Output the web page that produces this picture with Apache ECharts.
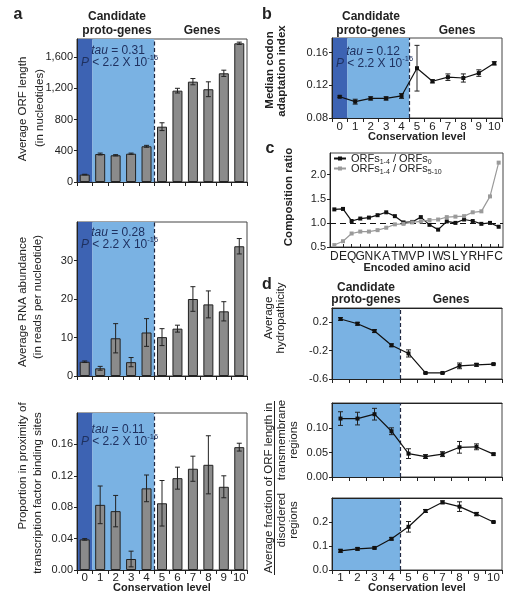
<!DOCTYPE html>
<html><head><meta charset="utf-8">
<script src="https://cdn.jsdelivr.net/npm/echarts@6/dist/echarts.min.js"></script>
<style>html,body{margin:0;padding:0;background:#fff}#c{width:518px;height:600px}</style>
</head><body><div id="c"></div>
<script>
// ---------------- data ----------------
const levels = ['0','1','2','3','4','5','6','7','8','9','10'];
const levelsD = ['1','2','3','4','5','6','7','8','9','10'];
const orfLength = [95, 358, 342, 362, 457, 708, 1169, 1284, 1187, 1391, 1775];
const orfLengthErr = [4, 12, 8, 8, 12, 50, 30, 40, 95, 40, 15];
const rnaAbundance = [3.7, 2.0, 9.8, 3.6, 11.3, 10.1, 12.3, 20.0, 18.6, 16.8, 33.7];
const rnaAbundanceErr = [0.2, 0.5, 3.8, 1.2, 3.6, 2.2, 0.9, 3.2, 3.5, 2.5, 2.0];
const tfbsProportion = [0.039, 0.083, 0.075, 0.014, 0.104, 0.085, 0.117, 0.129, 0.134, 0.106, 0.1565];
const tfbsProportionErr = [0.001, 0.024, 0.020, 0.010, 0.017, 0.029, 0.014, 0.016, 0.037, 0.014, 0.005];
const codonAdaptation = [0.106, 0.100, 0.104, 0.104, 0.107, 0.141, 0.125, 0.130, 0.129, 0.135, 0.147];
const codonAdaptationErr = [0.001, 0.003, 0.002, 0.002, 0.003, 0.028, 0.002, 0.004, 0.005, 0.004, 0.002];
const aminoAcids = ['D','E','Q','G','N','K','A','T','M','V','P','I','W','S','L','Y','R','H','F','C'];
const ratioVs0 = [1.28, 1.29, 1.04, 1.09, 1.11, 1.16, 1.22, 1.14, 1.01, 1.02, 1.12, 0.96, 0.86, 1.03, 1.00, 1.07, 1.04, 0.98, 1.00, 0.92];
const ratioVs510 = [0.54, 0.62, 0.78, 0.82, 0.82, 0.85, 0.90, 0.97, 0.98, 1.01, 1.03, 1.06, 1.07, 1.12, 1.13, 1.14, 1.22, 1.24, 1.55, 2.25];
const hydropathicity = [0.245, 0.178, 0.075, -0.125, -0.24, -0.515, -0.515, -0.415, -0.40, -0.39];
const hydropathicityErr = [0.02, 0.02, 0.02, 0.02, 0.05, 0.01, 0.01, 0.04, 0.02, 0.01];
const transmembrane = [0.120, 0.120, 0.129, 0.094, 0.048, 0.042, 0.047, 0.061, 0.062, 0.047];
const transmembraneErr = [0.014, 0.013, 0.012, 0.007, 0.010, 0.004, 0.005, 0.012, 0.006, 0.002];
const disordered = [0.080, 0.088, 0.092, 0.130, 0.180, 0.246, 0.282, 0.264, 0.233, 0.200];
const disorderedErr = [0.006, 0.005, 0.004, 0.005, 0.022, 0.006, 0.006, 0.020, 0.007, 0.003];
const tauValues = ['0.31', '0.28', '0.11', '0.12'];
const pBound = '2.2 X 10';
const pExponent = '-16';
const ticksA1 = [0, 400, 800, 1200, 1600];
const ticksA2 = [0, 10, 20, 30];
const ticksA3 = [0, 0.04, 0.08, 0.12, 0.16];
const ticksB = [0.08, 0.12, 0.16];
const ticksC = [0.5, 1.0, 1.5, 2.0];
const ticksD1 = [-0.6, -0.2, 0.2];
const ticksD2 = [0, 0.05, 0.10];
const ticksD3 = [0, 0.1, 0.2];

// ---------------- styles ----------------
const FONT = '"Liberation Sans", Arial, Helvetica, sans-serif';
const INK = '#222';
const DARK_BLUE = '#3d63b3';
const LIGHT_BLUE = '#7ab2e3';
const BAR = '#8b8b8b';
const DASH = '#1f2740';
const TAU = '#1f3160';

const grids = [
  {left:77, top:39, width:170, height:143},
  {left:77, top:222, width:170, height:154},
  {left:77, top:413, width:170, height:157},
  {left:332, top:38, width:170, height:80},
  {left:330, top:153, width:173, height:94},
  {left:332, top:308, width:170, height:71},
  {left:332, top:403, width:170, height:74},
  {left:332, top:498, width:170, height:72}
].map(g => Object.assign({show:true, borderColor:'#444', borderWidth:1, backgroundColor:'transparent'}, g));

const xAxes = [], yAxes = [], series = [];

function addCat(gi, data, o) {
  o = o || {};
  xAxes.push({type:'category', gridIndex:gi, data:data, boundaryGap:true,
    axisLine:{onZero:false, lineStyle:{color:INK, width:1}},
    axisTick:{show:true, length:o.tickLen || 4, inside:!!o.inside, alignWithLabel:!!o.align, lineStyle:{color:INK}},
    axisLabel:{show:!!o.labels, interval:0, fontSize:o.fs || 11.5, color:INK, margin:o.margin || 3, fontFamily:FONT},
    splitLine:{show:false}, z:3});
  return xAxes.length - 1;
}
function addRegionAxis(gi, min, max, topLine) {
  xAxes.push({type:'value', gridIndex:gi, min:min, max:max, position:'top', show:!!topLine,
    axisLine:{show:!!topLine, onZero:false, lineStyle:{color:INK, width:1}},
    axisTick:{show:false}, axisLabel:{show:false}, splitLine:{show:false}, z:3});
  return xAxes.length - 1;
}
function addVal(gi, min, max, ticks, fmt) {
  yAxes.push({type:'value', gridIndex:gi, min:min, max:max,
    axisLine:{show:true, onZero:false, lineStyle:{color:INK, width:1}},
    axisTick:{show:true, length:3, customValues:ticks, lineStyle:{color:INK}},
    axisLabel:{customValues:ticks, formatter:fmt, fontSize:11, color:INK, margin:4, fontFamily:FONT},
    splitLine:{show:false}, z:3});
  return yAxes.length - 1;
}
function addRegions(xi, yi, bands, dashAt) {
  series.push({type:'line', xAxisIndex:xi, yAxisIndex:yi, data:[], silent:true,
    markArea:{silent:true, label:{show:false},
      data: bands.map(b => [{xAxis:b[0], itemStyle:{color:b[2], opacity:1, borderWidth:0}}, {xAxis:b[1]}])},
    markLine:{silent:true, symbol:'none', label:{show:false},
      lineStyle:{type:[4,2.5], color:DASH, width:1.2}, data:[{xAxis:dashAt}]}
  });
}
function errRender(params, api) {
  const x = api.value(0), v = api.value(1), e = api.value(2);
  const hi = api.coord([x, v + e]), lo = api.coord([x, v - e]);
  const w = 2.5, st = {stroke:INK, lineWidth:1};
  return {type:'group', children:[
    {type:'line', shape:{x1:hi[0], y1:hi[1], x2:lo[0], y2:lo[1]}, style:st},
    {type:'line', shape:{x1:hi[0]-w, y1:hi[1], x2:hi[0]+w, y2:hi[1]}, style:st},
    {type:'line', shape:{x1:lo[0]-w, y1:lo[1], x2:lo[0]+w, y2:lo[1]}, style:st}
  ]};
}
function addErr(xi, yi, vals, errs) {
  series.push({type:'custom', xAxisIndex:xi, yAxisIndex:yi, renderItem:errRender, z:4, silent:true,
    encode:{x:0, y:1}, data: vals.map((v, i) => [i, v, errs[i]])});
}
function addBars(xi, yi, vals, errs) {
  series.push({type:'bar', xAxisIndex:xi, yAxisIndex:yi, data:vals, barWidth:10, silent:true,
    itemStyle:{color:BAR, borderColor:INK, borderWidth:1}});
  addErr(xi, yi, vals, errs);
}
function addLine(xi, yi, vals, errs, color, name) {
  series.push({type:'line', name:name, xAxisIndex:xi, yAxisIndex:yi, data:vals, silent:true,
    symbol:'rect', symbolSize:4, showSymbol:true, color:color,
    lineStyle:{color:color, width:1.2}, itemStyle:{color:color}, z:5});
  if (errs) addErr(xi, yi, vals, errs);
}

const fmtComma = v => String(Math.round(v)).replace(/\B(?=(\d{3})+(?!\d))/g, ',');
const fix = n => v => v.toFixed(n);

const bandsA = [[-0.5, 0.5, DARK_BLUE], [0.5, 4.5, LIGHT_BLUE]];
const bandsD = [[0.5, 4.5, LIGHT_BLUE]];

// panel a
const panelsA = [
  [orfLength, orfLengthErr, 1830, ticksA1, fmtComma, false],
  [rnaAbundance, rnaAbundanceErr, 40, ticksA2, fix(0), false],
  [tfbsProportion, tfbsProportionErr, 0.2, ticksA3, fix(2), true]
];
panelsA.forEach((p, gi) => {
  const xc = addCat(gi, levels, {labels:p[5], margin:2});
  const xr = addRegionAxis(gi, -0.5, 10.5, false);
  const y = addVal(gi, 0, p[2], p[3], p[4]);
  addRegions(xr, y, bandsA, 4.5);
  addBars(xc, y, p[0], p[1]);
});
// panel b
{
  const xc = addCat(3, levels, {labels:true, margin:3});
  const xr = addRegionAxis(3, -0.5, 10.5, false);
  const y = addVal(3, 0.08, 0.178, ticksB, fix(2));
  addRegions(xr, y, bandsA, 4.5);
  addLine(xc, y, codonAdaptation, codonAdaptationErr, '#111');
}
// panel c
{
  const xc = addCat(4, aminoAcids, {labels:true, margin:4, inside:true, align:true, tickLen:3, fs:12});
  const y = addVal(4, 0.5, 2.45, ticksC, fix(1));
  addLine(xc, y, ratioVs0, null, '#111', 'r0');
  series[series.length-1].markLine = {silent:true, symbol:'none', label:{show:false},
    lineStyle:{type:[6,4], color:'#111', width:1}, data:[{yAxis:1}]};
  addLine(xc, y, ratioVs510, null, '#9a9a9a', 'r510');
}
// panel d
const panelsD = [
  [hydropathicity, hydropathicityErr, -0.6, 0.4, ticksD1, fix(1), false],
  [transmembrane, transmembraneErr, 0, 0.152, ticksD2, fix(2), false],
  [disordered, disorderedErr, 0, 0.3, ticksD3, fix(1), true]
];
panelsD.forEach((p, k) => {
  const gi = 5 + k;
  const xc = addCat(gi, levelsD, {labels:p[6], margin:2});
  const xr = addRegionAxis(gi, 0.5, 10.5, true);
  const y = addVal(gi, p[2], p[3], p[4], p[5]);
  addRegions(xr, y, bandsD, 4.5);
  addLine(xc, y, p[0], p[1], '#111');
});

// ---------------- text ----------------
function txt(x, y, text, o) {
  o = o || {};
  return {type:'text', x:x, y:y, rotation:o.rot ? Math.PI/2 : 0, silent:true, z:10,
    style:{text:text, x:0, y:0, align:'center', verticalAlign:'middle', fill:o.color || INK,
      fontSize:o.fs || 11, fontWeight:o.bold ? 'bold' : 'normal', fontFamily:FONT, rich:o.rich}};
}
const tauRich = {
  i:{fontStyle:'italic', fontSize:12, lineHeight:18, fill:TAU, fontFamily:FONT},
  n:{fontSize:12, lineHeight:18, fill:TAU, fontFamily:FONT},
  s:{fontSize:7.5, verticalAlign:'top', fill:TAU, fontFamily:FONT}
};
function tauBlock(cx, cy, tau) {
  return [
    txt(cx, cy, '{i|tau}{n| = ' + tau + '}', {rich:tauRich}),
    txt(cx + 1.5, cy + 12, '{i|P}{n| < ' + pBound + '}{s|' + pExponent + '}', {rich:tauRich})
  ];
}
const H = {bold:true, fs:12};
const N = {bold:true, fs:11};
const graphic = [
  txt(18, 15, 'a', {bold:true, fs:16}),
  txt(267, 15, 'b', {bold:true, fs:16}),
  txt(270, 149, 'c', {bold:true, fs:16}),
  txt(267, 285, 'd', {bold:true, fs:16}),
  txt(117, 17, 'Candidate', H), txt(117, 31, 'proto-genes', H), txt(202, 31, 'Genes', H),
  txt(371, 17, 'Candidate', H), txt(371, 31, 'proto-genes', H), txt(457, 31, 'Genes', H),
  txt(366, 288, 'Candidate', H), txt(366, 300, 'proto-genes', H), txt(451, 300, 'Genes', H),
  txt(23, 109, 'Average ORF length', {rot:true, fs:11.5}),
  txt(40, 108, '(in nucleotides)', {rot:true, fs:11.5}),
  txt(23, 302, 'Average RNA abundance', {rot:true, fs:11.5}),
  txt(38, 297, '(in reads per nucleotide)', {rot:true, fs:11.5}),
  txt(23, 466, 'Proportion in proximity of', {rot:true, fs:11.5}),
  txt(38, 493, 'transcription factor binding sites', {rot:true, fs:11.5}),
  txt(270, 70, 'Median codon', {rot:true, bold:true, fs:11.5}),
  txt(282, 71, 'adaptation index', {rot:true, bold:true, fs:11.5}),
  txt(289, 197, 'Composition ratio', {rot:true, bold:true, fs:11.5}),
  txt(269, 318, 'Average', {rot:true, fs:11.5}),
  txt(281, 318, 'hydropathicity', {rot:true, fs:11.5}),
  txt(269, 488, 'Average fraction of ORF length in', {rot:true, fs:11.5}),
  {type:'line', silent:true, z:10, shape:{x1:274.5, y1:401, x2:274.5, y2:575}, style:{stroke:INK, lineWidth:1}},
  txt(282, 440, 'transmembrane', {rot:true, fs:11.5}),
  txt(294, 440, 'regions', {rot:true, fs:11.5}),
  txt(282, 520, 'disordered', {rot:true, fs:11.5}),
  txt(294, 520, 'regions', {rot:true, fs:11.5}),
  txt(162, 588, 'Conservation level', N),
  txt(417, 137, 'Conservation level', N),
  txt(417, 268, 'Encoded amino acid', N),
  txt(417, 588, 'Conservation level', N)
].concat(
  tauBlock(118, 51, tauValues[0]),
  tauBlock(118, 233, tauValues[1]),
  tauBlock(118, 430, tauValues[2]),
  tauBlock(373, 52, tauValues[3])
);

const legRich = {
  b:{fontSize:11, lineHeight:15, color:INK, fontFamily:FONT},
  s:{fontSize:7, verticalAlign:'bottom', color:INK, fontFamily:FONT}
};
const option = {
  animation:false,
  textStyle:{fontFamily:FONT},
  grid:grids, xAxis:xAxes, yAxis:yAxes, series:series, graphic:graphic,
  legend:{data:['r0','r510'], left:333, top:153, orient:'vertical', itemGap:-3, itemWidth:12, itemHeight:5,
    selectedMode:false, padding:0,
    formatter: n => n === 'r0' ? '{b|ORFs}{s|1-4}{b| / ORFs}{s|0}' : '{b|ORFs}{s|1-4}{b| / ORFs}{s|5-10}',
    textStyle:{rich:legRich, color:INK, fontSize:11}}
};
const chart = echarts.init(document.getElementById('c'), null, {renderer:'canvas'});
chart.setOption(option);
</script></body></html>
